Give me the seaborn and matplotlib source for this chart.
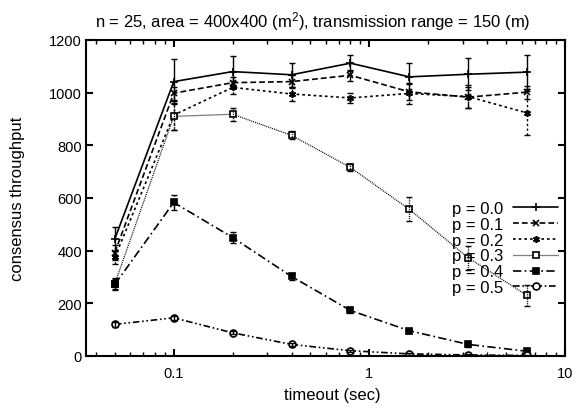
import numpy as np
import pandas as pd
import matplotlib
matplotlib.use("Agg")
import matplotlib.pyplot as plt
import seaborn as sns
from matplotlib.ticker import LogLocator, FixedLocator, NullFormatter

timeout = [0.05, 0.1, 0.2, 0.4, 0.8, 1.6, 3.2, 6.4]
labels = ["p = 0.0", "p = 0.1", "p = 0.2", "p = 0.3", "p = 0.4", "p = 0.5"]
p00 = [445, 1042, 1080, 1068, 1112, 1060, 1070, 1078]
p01 = [393, 998, 1038, 1042, 1066, 1003, 983, 1002]
p02 = [375, 915, 1020, 995, 980, 997, 985, 923]
p03 = [275, 910, 918, 838, 716, 557, 373, 230]
p04 = [272, 583, 450, 302, 173, 96, 44, 18]
p05 = [120, 145, 88, 44, 20, 8, 4, 2]
e00 = [45, 85, 60, 45, 30, 52, 60, 65]
e01 = [30, 25, 20, 25, 20, 30, 40, 25]
e02 = [25, 55, 25, 25, 20, 40, 45, 85]
e03 = [20, 50, 25, 15, 15, 45, 45, 40]
e04 = [20, 30, 20, 15, 10, 8, 8, 6]
e05 = [8, 8, 6, 5, 4, 3, 3, 2]

series = [p00, p01, p02, p03, p04, p05]
errs = [e00, e01, e02, e03, e04, e05]

rows = []
for lab, vals in zip(labels, series):
    for t, v in zip(timeout, vals):
        rows.append({"timeout": t, "throughput": v, "p": lab})
df = pd.DataFrame(rows)

sns.set_style("ticks")
plt.rcParams["font.family"] = ["Liberation Sans", "DejaVu Sans"]
plt.rcParams["mathtext.fontset"] = "custom"
plt.rcParams["mathtext.rm"] = "Liberation Sans"
plt.rcParams["mathtext.it"] = "Liberation Sans"
plt.rcParams["mathtext.bf"] = "Liberation Sans"
for k in ["text.color", "axes.labelcolor", "xtick.color", "ytick.color",
          "axes.edgecolor", "xtick.labelcolor", "ytick.labelcolor"]:
    plt.rcParams[k] = "black"

fig = plt.figure(figsize=(5.84, 4.10), dpi=100)
ax = fig.add_axes([86/584, 1-357/410, (565-86)/584, (357-41)/410])

dashes = {
    "p = 0.0": "",
    "p = 0.1": (3.5, 1.8),
    "p = 0.2": (1.6, 1.8),
    "p = 0.3": (0.8, 0.8),
    "p = 0.4": (5, 2, 1, 2),
    "p = 0.5": (4, 1.6, 1, 1.6, 1, 1.6),
}
markers = {
    "p = 0.0": "+",
    "p = 0.1": "x",
    "p = 0.2": (6, 2, 0),
    "p = 0.3": "s",
    "p = 0.4": "s",
    "p = 0.5": "o",
}
lws = {"p = 0.0": 1.2, "p = 0.1": 1.2, "p = 0.2": 1.2, "p = 0.3": 0.9,
       "p = 0.4": 1.2, "p = 0.5": 1.2}

for lab, vals, er in zip(labels, series, errs):
    d = df[df["p"] == lab]
    mfc = "white" if lab in ("p = 0.3", "p = 0.5") else "black"
    ms = 5 if lab != "p = 0.0" else 6
    sns.lineplot(data=d, x="timeout", y="throughput", ax=ax, color="black",
                 linewidth=lws[lab], label=lab, marker=markers[lab],
                 markersize=ms, markerfacecolor=mfc, markeredgecolor="black",
                 markeredgewidth=1.2)
    line = ax.get_lines()[-1]
    if dashes[lab]:
        line.set_dashes(dashes[lab])
    eb = ax.errorbar(timeout, vals, yerr=er, fmt="none", ecolor="black",
                     elinewidth=1.0, capsize=2.5, capthick=1.0)
    if dashes[lab]:
        eb[2][0].set_linestyle((0, dashes[lab]))

ax.set_xscale("log")
ax.set_xlim(0.0356, 10)
ax.set_ylim(0, 1200)
ax.xaxis.set_major_locator(FixedLocator([0.1, 1, 10]))
ax.set_xticklabels(["0.1", "1", "10"])
ax.xaxis.set_minor_locator(LogLocator(base=10, subs=np.arange(2, 10)))
ax.xaxis.set_minor_formatter(NullFormatter())
ax.set_yticks([0, 200, 400, 600, 800, 1000, 1200])
ax.tick_params(which="both", direction="in", top=True, right=True, labelsize=10.5,
               color="black", labelcolor="black")
ax.tick_params(which="major", length=5, width=1.5)
ax.tick_params(which="minor", length=3, width=1.0)
ax.tick_params(axis="x", which="both", pad=7.3)
ax.tick_params(axis="y", which="both", pad=3)
for s in ax.spines.values():
    s.set_linewidth(1.5)
    s.set_color("black")

ax.set_xlabel("timeout (sec)", fontsize=12, color="black")
ax.xaxis.set_label_coords((332-86)/479, -(400-357)/316, transform=ax.transAxes)
ax.xaxis.label.set_va("baseline")
ax.set_ylabel("consensus throughput", fontsize=12, color="black")
ax.yaxis.set_label_coords((25-86)/479, 0.5)
ax.set_title("n = 25, area = 400x400 (m$^2$), transmission range = 150 (m)",
             fontsize=12, pad=10, x=(313-86)/479, color="black")

leg = ax.legend(loc="upper right", bbox_to_anchor=(558/584, 1-202/410),
                bbox_transform=fig.transFigure, frameon=False, markerfirst=False,
                fontsize=12, handlelength=2.7, handletextpad=0.6,
                labelspacing=0.05, borderpad=0, borderaxespad=0)
for t in leg.get_texts():
    t.set_color("black")

fig.savefig("out.png", dpi=100)
